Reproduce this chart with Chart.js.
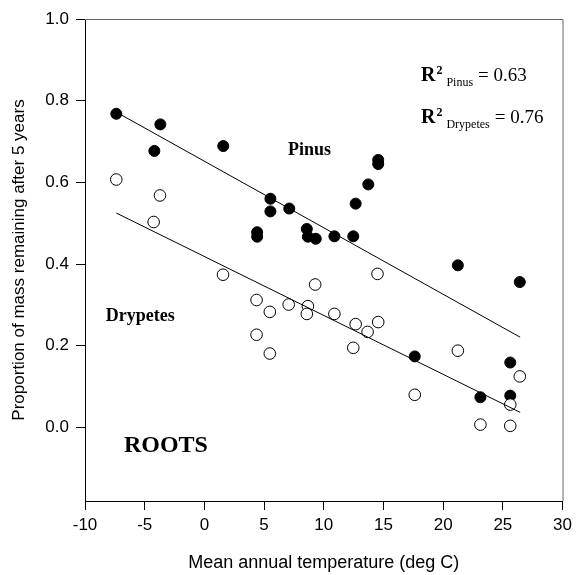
<!DOCTYPE html>
<html>
<head>
<meta charset="utf-8">
<script src="https://cdn.jsdelivr.net/npm/chart.js@4.4.1/dist/chart.umd.min.js"></script>
<style>
  html, body { margin: 0; padding: 0; background: #fff; }
  #wrap { width: 577px; height: 575px; }
</style>
</head>
<body>
<div id="wrap"><canvas id="rootChart" width="577" height="575"></canvas></div>
<script>
// values
var pinusTemp = [-7.38, -4.19, -3.69, 1.58, 4.42, 4.42, 5.53, 5.53, 7.11, 8.58, 8.67, 9.33, 10.89, 12.47, 12.67, 13.73, 14.56, 14.56, 17.62, 21.23, 23.12, 25.62, 25.62, 26.42];
var pinusMass = [0.768, 0.677, 0.742, 0.689, 0.478, 0.467, 0.560, 0.529, 0.536, 0.486, 0.467, 0.462, 0.468, 0.468, 0.548, 0.595, 0.645, 0.655, 0.174, 0.397, 0.074, 0.159, 0.078, 0.356];

var drypetesTemp = [-7.38, -4.25, -3.72, 1.56, 4.37, 4.37, 5.48, 5.48, 7.06, 8.67, 8.58, 9.28, 10.89, 12.47, 12.67, 13.67, 14.56, 14.50, 17.62, 21.23, 23.12, 25.62, 25.62, 26.42];
var drypetesMass = [0.607, 0.503, 0.568, 0.374, 0.312, 0.227, 0.283, 0.181, 0.301, 0.297, 0.278, 0.350, 0.278, 0.195, 0.253, 0.234, 0.258, 0.376, 0.080, 0.188, 0.007, 0.056, 0.004, 0.125];

// regression lines (end points)
var fitTemp = [-7.38, 26.45];
var pinusFit = [0.772, 0.221];
var drypetesFit = [0.525, 0.037];

var xTicks = [-10, -5, 0, 5, 10, 15, 20, 25, 30];
var yTicks = [0.0, 0.2, 0.4, 0.6, 0.8, 1.0];

function pts(xs, ys) {
  return xs.map(function (x, i) { return { x: x, y: ys[i] }; });
}

var serif = "'Liberation Serif', 'Times New Roman', serif";
var sans = "'Liberation Sans', Arial, sans-serif";

var labelsPlugin = {
  id: "labels",
  afterDraw: function (chart) {
    var ctx = chart.ctx;
    var xs = chart.scales.x, ys = chart.scales.y;
    var a = chart.chartArea;
    ctx.save();
    // frame top and right
    ctx.strokeStyle = "#666";
    ctx.lineWidth = 1;
    ctx.beginPath();
    ctx.moveTo(a.left, a.top + 0.5);
    ctx.lineTo(a.right + 0.5, a.top + 0.5);
    ctx.lineTo(a.right + 0.5, a.bottom);
    ctx.stroke();

    ctx.fillStyle = "#000";
    ctx.textAlign = "center";
    ctx.textBaseline = "middle";
    ctx.font = "bold 18px " + serif;
    ctx.fillText("Pinus", xs.getPixelForValue(8.81), ys.getPixelForValue(0.678));
    ctx.fillText("Drypetes", xs.getPixelForValue(-5.38), ys.getPixelForValue(0.271));
    ctx.font = "bold 24px " + serif;
    ctx.fillText("ROOTS", xs.getPixelForValue(-3.22), ys.getPixelForValue(-0.044));

    // R squared block
    function r2(sub, val, yv) {
      var x = xs.getPixelForValue(18.14);
      var y = ys.getPixelForValue(yv);
      ctx.textAlign = "left";
      ctx.textBaseline = "alphabetic";
      ctx.font = "bold 20px " + serif;
      ctx.fillText("R", x, y);
      x += ctx.measureText("R").width + 1;
      ctx.font = "bold 12px " + serif;
      ctx.fillText("2", x, y - 7);
      x += ctx.measureText("2").width + 4;
      ctx.font = "12px " + serif;
      ctx.fillText(sub, x, y + 5);
      x += ctx.measureText(sub).width + 5;
      ctx.font = "19px " + serif;
      ctx.fillText("= " + val, x, y);
    }
    r2("Pinus", "0.63", 0.847);
    r2("Drypetes", "0.76", 0.746);
    ctx.restore();
  }
};

var ctx = document.getElementById("rootChart").getContext("2d");
var rootChart = new Chart(ctx, {
  type: "scatter",
  data: {
    datasets: [
      {
        label: "Pinus fit",
        type: "line",
        data: pts(fitTemp, pinusFit),
        borderColor: "#000",
        borderWidth: 1,
        pointRadius: 0,
        fill: false,
        order: 0
      },
      {
        label: "Drypetes fit",
        type: "line",
        data: pts(fitTemp, drypetesFit),
        borderColor: "#000",
        borderWidth: 1,
        pointRadius: 0,
        fill: false,
        order: 0
      },
      {
        label: "Drypetes",
        data: pts(drypetesTemp, drypetesMass),
        backgroundColor: "#fff",
        borderColor: "#000",
        borderWidth: 1,
        pointRadius: 5.8,
        order: 1
      },
      {
        label: "Pinus",
        data: pts(pinusTemp, pinusMass),
        backgroundColor: "#000",
        borderColor: "#000",
        borderWidth: 1,
        pointRadius: 5.5,
        order: 2
      }
    ]
  },
  options: {
    responsive: false,
    animation: false,
    layout: { padding: { top: 19, right: 11, left: 0, bottom: 0 } },
    plugins: { legend: { display: false }, tooltip: { enabled: false } },
    scales: {
      x: {
        type: "linear",
        min: -10,
        max: 30,
        afterBuildTicks: function (s) { s.ticks = xTicks.map(function (v) { return { value: v }; }); },
        afterFit: function (s) { s.height = 74; },
        grid: { drawOnChartArea: false, drawTicks: true, tickLength: 9, color: "#000" },
        border: { color: "#000", width: 1 },
        ticks: { color: "#000", font: { family: sans, size: 17 }, padding: 5, maxRotation: 0 },
        title: { display: true, text: "Mean annual temperature (deg C)", color: "#000", font: { family: sans, size: 18 }, padding: { top: 0, bottom: 1 } }
      },
      y: {
        type: "linear",
        min: -0.18,
        max: 1.0,
        afterBuildTicks: function (s) { s.ticks = yTicks.map(function (v) { return { value: v }; }); },
        afterFit: function (s) { s.width = 85; },
        grid: { drawOnChartArea: false, drawTicks: true, tickLength: 9, color: "#000" },
        border: { color: "#000", width: 1 },
        ticks: { color: "#000", font: { family: sans, size: 17 }, padding: 7, callback: function (v) { return v.toFixed(1); } },
        title: { display: true, text: "Proportion of mass remaining after 5 years", color: "#000", font: { family: sans, size: 17 }, padding: { top: 9, bottom: 0 } }
      }
    }
  },
  plugins: [labelsPlugin]
});
</script>
</body>
</html>
